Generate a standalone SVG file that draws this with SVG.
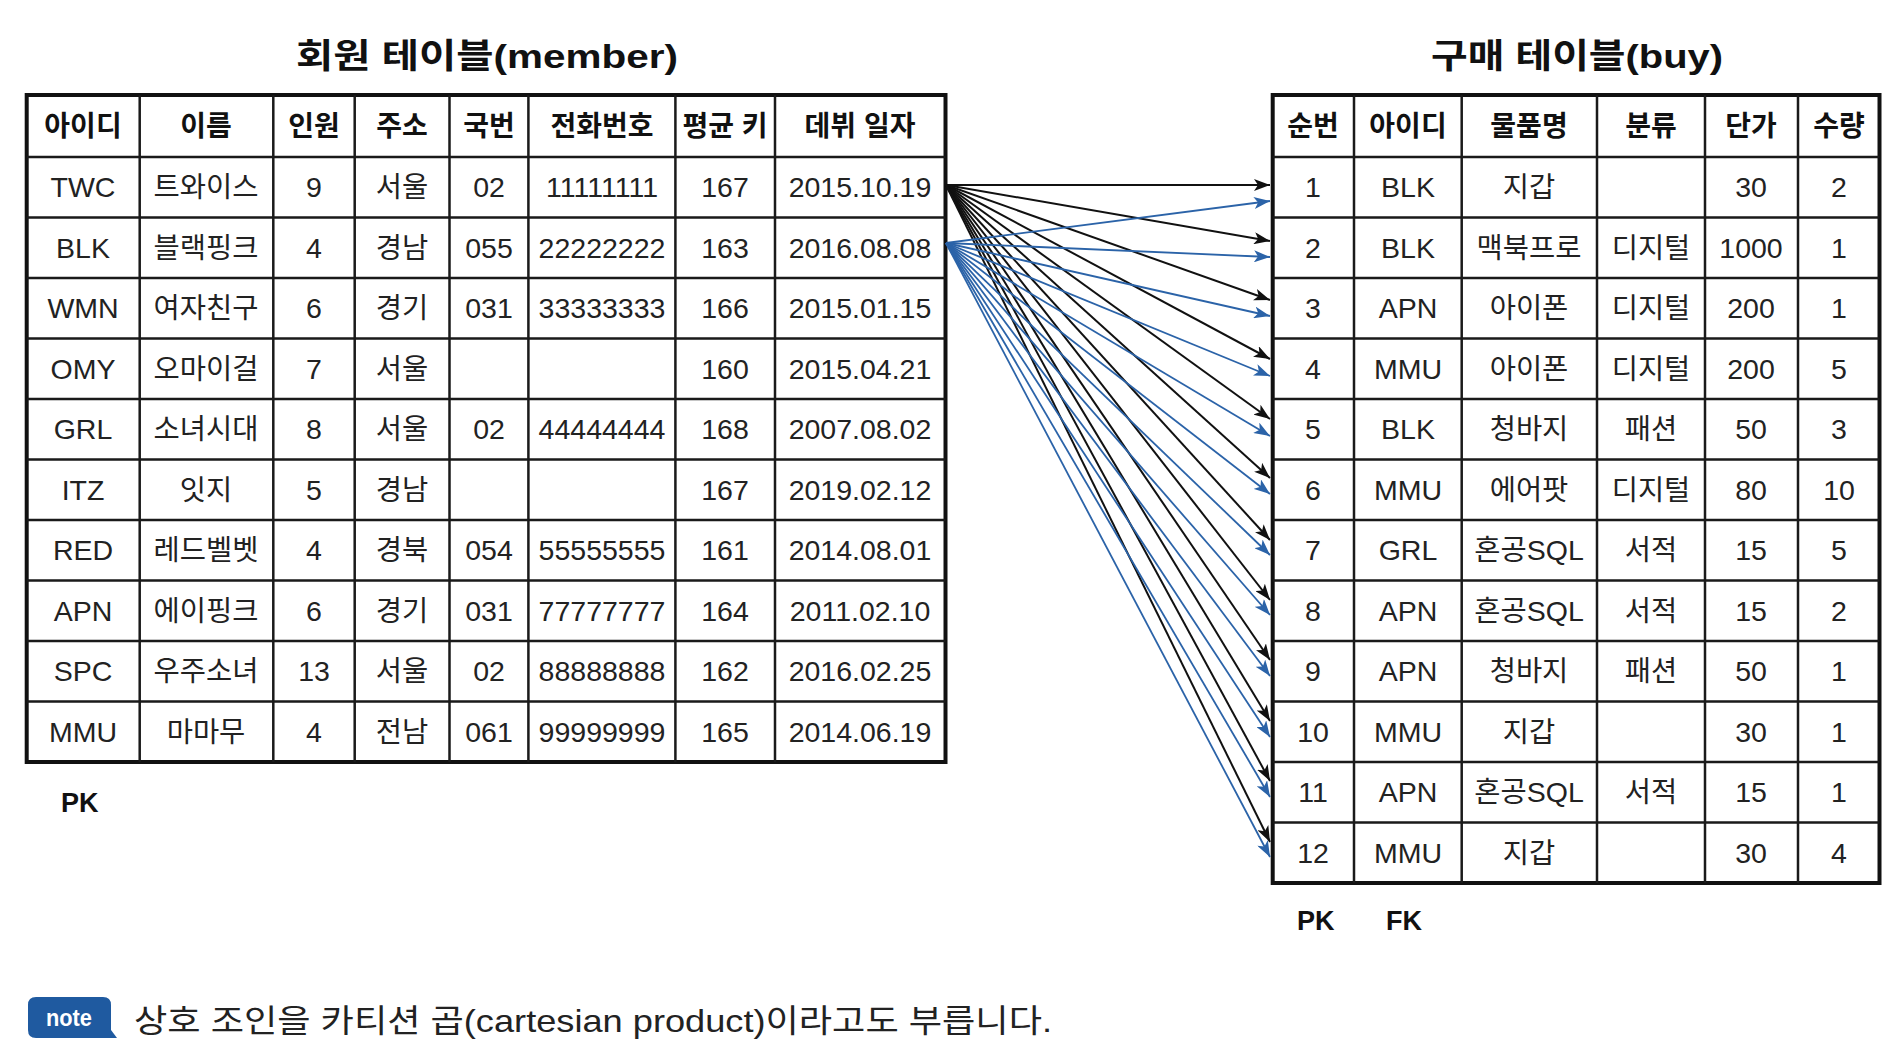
<svg xmlns="http://www.w3.org/2000/svg" width="1895" height="1053" viewBox="0 0 1895 1053">
<defs>
<style>
.t{font-family:"Liberation Sans","Noto Sans CJK KR",sans-serif;font-size:28.5px;fill:#222;text-anchor:middle}
.h{font-family:"Liberation Sans","Noto Sans CJK KR",sans-serif;font-size:28px;fill:#111;text-anchor:middle;font-weight:bold}
.title{font-family:"Liberation Sans","Noto Sans CJK KR",sans-serif;font-size:34px;font-weight:bold;fill:#111;text-anchor:middle}
.key{font-family:"Liberation Sans",sans-serif;font-size:27px;font-weight:bold;fill:#111}
.outer{fill:#fff;stroke:#111;stroke-width:4}
.grid{stroke:#1a1a1a;stroke-width:2.5;fill:none}
.bk{stroke:#111;stroke-width:2;fill:none}
.bl{stroke:#2b63a8;stroke-width:1.8;fill:none}
</style>
<marker id="ab" markerUnits="userSpaceOnUse" markerWidth="17" markerHeight="12" refX="16" refY="6" orient="auto"><path d="M0,0 L16,6 L0,12 L4,6 Z" fill="#111"/></marker>
<marker id="au" markerUnits="userSpaceOnUse" markerWidth="17" markerHeight="12" refX="16" refY="6" orient="auto"><path d="M0,0 L16,6 L0,12 L4,6 Z" fill="#2b63a8"/></marker>
</defs>
<rect width="1895" height="1053" fill="#fff"/>

<g id="member">
<text class="title" x="487" y="68" textLength="382" lengthAdjust="spacingAndGlyphs">회원 테이블(member)</text>
<rect class="outer" x="26.7" y="95" width="918.8" height="667"/>
<path class="grid" d="M139.7,95V762M273.3,95V762M354.7,95V762M449.5,95V762M528.4,95V762M675.4,95V762M775,95V762M26.7,157H945.5M26.7,217.5H945.5M26.7,278H945.5M26.7,338.5H945.5M26.7,399H945.5M26.7,459.5H945.5M26.7,520H945.5M26.7,580.5H945.5M26.7,641H945.5M26.7,701.5H945.5"/>
<g class="h">
<text x="83" y="136">아이디</text><text x="206" y="136">이름</text><text x="314" y="136">인원</text><text x="402" y="136">주소</text><text x="489" y="136">국번</text><text x="602" y="136">전화번호</text><text x="725" y="136">평균 키</text><text x="860" y="136">데뷔 일자</text>
</g>
<g class="t">
<text x="83" y="197">TWC</text><text x="206" y="197">트와이스</text><text x="314" y="197">9</text><text x="402" y="197">서울</text><text x="489" y="197">02</text><text x="602" y="197">11111111</text><text x="725" y="197">167</text><text x="860" y="197">2015.10.19</text>
<text x="83" y="257.5">BLK</text><text x="206" y="257.5">블랙핑크</text><text x="314" y="257.5">4</text><text x="402" y="257.5">경남</text><text x="489" y="257.5">055</text><text x="602" y="257.5">22222222</text><text x="725" y="257.5">163</text><text x="860" y="257.5">2016.08.08</text>
<text x="83" y="318">WMN</text><text x="206" y="318">여자친구</text><text x="314" y="318">6</text><text x="402" y="318">경기</text><text x="489" y="318">031</text><text x="602" y="318">33333333</text><text x="725" y="318">166</text><text x="860" y="318">2015.01.15</text>
<text x="83" y="378.5">OMY</text><text x="206" y="378.5">오마이걸</text><text x="314" y="378.5">7</text><text x="402" y="378.5">서울</text><text x="725" y="378.5">160</text><text x="860" y="378.5">2015.04.21</text>
<text x="83" y="439">GRL</text><text x="206" y="439">소녀시대</text><text x="314" y="439">8</text><text x="402" y="439">서울</text><text x="489" y="439">02</text><text x="602" y="439">44444444</text><text x="725" y="439">168</text><text x="860" y="439">2007.08.02</text>
<text x="83" y="499.5">ITZ</text><text x="206" y="499.5">잇지</text><text x="314" y="499.5">5</text><text x="402" y="499.5">경남</text><text x="725" y="499.5">167</text><text x="860" y="499.5">2019.02.12</text>
<text x="83" y="560">RED</text><text x="206" y="560">레드벨벳</text><text x="314" y="560">4</text><text x="402" y="560">경북</text><text x="489" y="560">054</text><text x="602" y="560">55555555</text><text x="725" y="560">161</text><text x="860" y="560">2014.08.01</text>
<text x="83" y="620.5">APN</text><text x="206" y="620.5">에이핑크</text><text x="314" y="620.5">6</text><text x="402" y="620.5">경기</text><text x="489" y="620.5">031</text><text x="602" y="620.5">77777777</text><text x="725" y="620.5">164</text><text x="860" y="620.5">2011.02.10</text>
<text x="83" y="681">SPC</text><text x="206" y="681">우주소녀</text><text x="314" y="681">13</text><text x="402" y="681">서울</text><text x="489" y="681">02</text><text x="602" y="681">88888888</text><text x="725" y="681">162</text><text x="860" y="681">2016.02.25</text>
<text x="83" y="741.5">MMU</text><text x="206" y="741.5">마마무</text><text x="314" y="741.5">4</text><text x="402" y="741.5">전남</text><text x="489" y="741.5">061</text><text x="602" y="741.5">99999999</text><text x="725" y="741.5">165</text><text x="860" y="741.5">2014.06.19</text>
</g>
<text class="key" x="61" y="812">PK</text>
</g>

<g id="buy">
<text class="title" x="1577" y="68" textLength="292" lengthAdjust="spacingAndGlyphs">구매 테이블(buy)</text>
<rect class="outer" x="1272.7" y="95" width="606.8" height="788"/>
<path class="grid" d="M1354,95V883M1461.7,95V883M1597,95V883M1705,95V883M1798,95V883M1272.7,157H1879.5M1272.7,217.5H1879.5M1272.7,278H1879.5M1272.7,338.5H1879.5M1272.7,399H1879.5M1272.7,459.5H1879.5M1272.7,520H1879.5M1272.7,580.5H1879.5M1272.7,641H1879.5M1272.7,701.5H1879.5M1272.7,762H1879.5M1272.7,822.5H1879.5"/>
<g class="h">
<text x="1313" y="136">순번</text><text x="1408" y="136">아이디</text><text x="1529" y="136">물품명</text><text x="1651" y="136">분류</text><text x="1751" y="136">단가</text><text x="1839" y="136">수량</text>
</g>
<g class="t">
<text x="1313" y="197">1</text><text x="1408" y="197">BLK</text><text x="1529" y="197">지갑</text><text x="1751" y="197">30</text><text x="1839" y="197">2</text>
<text x="1313" y="257.5">2</text><text x="1408" y="257.5">BLK</text><text x="1529" y="257.5">맥북프로</text><text x="1651" y="257.5">디지털</text><text x="1751" y="257.5">1000</text><text x="1839" y="257.5">1</text>
<text x="1313" y="318">3</text><text x="1408" y="318">APN</text><text x="1529" y="318">아이폰</text><text x="1651" y="318">디지털</text><text x="1751" y="318">200</text><text x="1839" y="318">1</text>
<text x="1313" y="378.5">4</text><text x="1408" y="378.5">MMU</text><text x="1529" y="378.5">아이폰</text><text x="1651" y="378.5">디지털</text><text x="1751" y="378.5">200</text><text x="1839" y="378.5">5</text>
<text x="1313" y="439">5</text><text x="1408" y="439">BLK</text><text x="1529" y="439">청바지</text><text x="1651" y="439">패션</text><text x="1751" y="439">50</text><text x="1839" y="439">3</text>
<text x="1313" y="499.5">6</text><text x="1408" y="499.5">MMU</text><text x="1529" y="499.5">에어팟</text><text x="1651" y="499.5">디지털</text><text x="1751" y="499.5">80</text><text x="1839" y="499.5">10</text>
<text x="1313" y="560">7</text><text x="1408" y="560">GRL</text><text x="1529" y="560">혼공SQL</text><text x="1651" y="560">서적</text><text x="1751" y="560">15</text><text x="1839" y="560">5</text>
<text x="1313" y="620.5">8</text><text x="1408" y="620.5">APN</text><text x="1529" y="620.5">혼공SQL</text><text x="1651" y="620.5">서적</text><text x="1751" y="620.5">15</text><text x="1839" y="620.5">2</text>
<text x="1313" y="681">9</text><text x="1408" y="681">APN</text><text x="1529" y="681">청바지</text><text x="1651" y="681">패션</text><text x="1751" y="681">50</text><text x="1839" y="681">1</text>
<text x="1313" y="741.5">10</text><text x="1408" y="741.5">MMU</text><text x="1529" y="741.5">지갑</text><text x="1751" y="741.5">30</text><text x="1839" y="741.5">1</text>
<text x="1313" y="802">11</text><text x="1408" y="802">APN</text><text x="1529" y="802">혼공SQL</text><text x="1651" y="802">서적</text><text x="1751" y="802">15</text><text x="1839" y="802">1</text>
<text x="1313" y="862.5">12</text><text x="1408" y="862.5">MMU</text><text x="1529" y="862.5">지갑</text><text x="1751" y="862.5">30</text><text x="1839" y="862.5">4</text>
</g>
<text class="key" x="1297" y="930">PK</text>
<text class="key" x="1386" y="930">FK</text>
</g>

<g id="connectors">
<g class="bk" marker-end="url(#ab)">
<line x1="946" y1="185" x2="1270" y2="185"/>
<line x1="946" y1="185" x2="1270" y2="241"/>
<line x1="946" y1="185" x2="1270" y2="300"/>
<line x1="946" y1="185" x2="1270" y2="359"/>
<line x1="946" y1="185" x2="1270" y2="419"/>
<line x1="946" y1="185" x2="1270" y2="478"/>
<line x1="946" y1="185" x2="1270" y2="540"/>
<line x1="946" y1="185" x2="1270" y2="600"/>
<line x1="946" y1="185" x2="1270" y2="660"/>
<line x1="946" y1="185" x2="1270" y2="721"/>
<line x1="946" y1="185" x2="1270" y2="781"/>
<line x1="946" y1="185" x2="1270" y2="842"/>
</g>
<g class="bl" marker-end="url(#au)">
<line x1="946" y1="243" x2="1270" y2="201"/>
<line x1="946" y1="243" x2="1270" y2="257"/>
<line x1="946" y1="243" x2="1270" y2="316"/>
<line x1="946" y1="243" x2="1270" y2="376"/>
<line x1="946" y1="243" x2="1270" y2="436"/>
<line x1="946" y1="243" x2="1270" y2="494"/>
<line x1="946" y1="243" x2="1270" y2="555"/>
<line x1="946" y1="243" x2="1270" y2="615"/>
<line x1="946" y1="243" x2="1270" y2="676"/>
<line x1="946" y1="243" x2="1270" y2="737"/>
<line x1="946" y1="243" x2="1270" y2="797"/>
<line x1="946" y1="243" x2="1270" y2="857"/>
</g>
</g>

<g id="note">
<path d="M36,997 H103 Q111,997 111,1005 V1030 L117,1038 H36 Q28,1038 28,1030 V1005 Q28,997 36,997 Z" fill="#1f5aa0"/>
<text x="69" y="1026" font-family="Liberation Sans, sans-serif" font-size="23" font-weight="bold" fill="#fff" text-anchor="middle" textLength="46" lengthAdjust="spacingAndGlyphs">note</text>
<text x="134" y="1032" font-family="Liberation Sans, Noto Sans CJK KR, sans-serif" font-size="32" fill="#222" textLength="918" lengthAdjust="spacingAndGlyphs">상호 조인을 카티션 곱(cartesian product)이라고도 부릅니다.</text>
</g>
</svg>
